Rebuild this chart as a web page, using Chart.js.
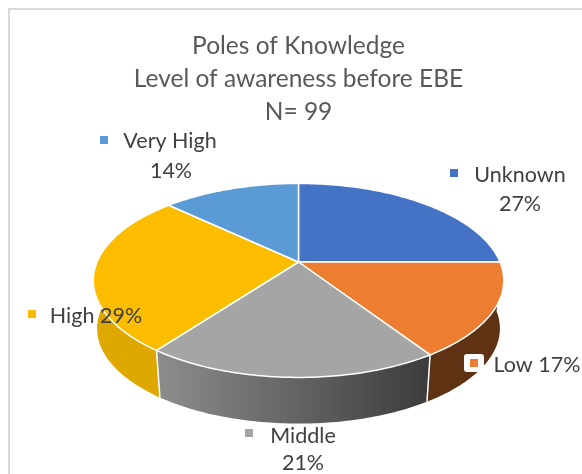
<!DOCTYPE html>
<html>
<head>
<meta charset="utf-8">
<title>Poles of Knowledge</title>
<script src="https://cdn.jsdelivr.net/npm/chart.js@4/dist/chart.umd.min.js"></script>
<style>
    html, body { margin: 0; padding: 0; background: #fff; overflow: hidden; }
    #frame { position: absolute; left: 8px; top: 8px; width: 574px; height: 466px;
             border-left: 2px solid #d9d9d9; border-top: 2px solid #d9d9d9; box-sizing: border-box; }
    #chart { position: absolute; left: 0; top: 0; }
</style>
</head>
<body>
<div id="frame"></div>
<canvas id="chart" width="582" height="474"></canvas>
<script>
// Values as printed on the labels
const categories = ['Unknown', 'Low', 'Middle', 'High', 'Very High'];
const shares = [27, 17, 21, 29, 14];
const titleLines = ['Poles of Knowledge', 'Level of awareness before EBE', 'N= 99'];
const sliceColors = ['#4472c4', '#ed7d31', '#a5a5a5', '#fcbd00', '#5b9bd5'];

// Side wall colours, left end and right end of each slice
const wallColors = [
    ['#2f5597', '#2f5597'],
    ['#5e3212', '#5e3212'],
    ['#8c8c8c', '#3c3c3c'],
    ['#dfa800', '#c49300'],
    ['#41719c', '#41719c']
];

// Perspective of the disc, top face and bottom face
const topFace = { cx: 298.5, cy: 262, a: 201.5, b: 93.5, k: 0.19 };
const bottomFace = { cx: 298.5, cy: 311, a: 198, b: 92, k: 0.183 };

// Where each label sits: marker box and the text lines under it
const labelSpots = [
    { marker: [450, 169], lines: [['Unknown', 520, 175], ['%', 520, 204]] },
    { marker: [470, 359], lines: [['Low %', 537, 365]], box: true },
    { marker: [245, 429], lines: [['Middle', 303, 436], ['%', 303, 463]] },
    { marker: [28, 310], lines: [['High %', 96, 316]] },
    { marker: [100, 136], lines: [['Very High', 170, 141], ['%', 171, 171]] }
];

// Turn a chart angle into a point on the tilted disc
function project(face, angle) {
    const u = Math.cos(angle);
    const v = -Math.sin(angle);
    const d = 1 + face.k * v;
    return [face.cx + face.a * u / d, face.cy - face.b * v / d];
}

function traceArc(ctx, face, from, to, move) {
    const steps = 80;
    for (let i = 0; i <= steps; i++) {
        const p = project(face, from + (to - from) * i / steps);
        if (i === 0 && move) ctx.moveTo(p[0], p[1]);
        else ctx.lineTo(p[0], p[1]);
    }
}

// Draws the arcs of the pie as a 3D disc, using the angles Chart.js worked out
const disc3d = {
    id: 'disc3d',
    beforeDatasetsDraw(chart) {
        const ctx = chart.ctx;
        const arcs = chart.getDatasetMeta(0).data;

        arcs.forEach((arc, i) => {
            const left = project(bottomFace, arc.startAngle)[0];
            const right = project(bottomFace, arc.endAngle)[0];
            const grad = ctx.createLinearGradient(Math.min(left, right), 0, Math.max(left, right), 0);
            grad.addColorStop(0, wallColors[i][0]);
            grad.addColorStop(1, wallColors[i][1]);
            ctx.beginPath();
            traceArc(ctx, topFace, arc.startAngle, arc.endAngle, true);
            traceArc(ctx, bottomFace, arc.endAngle, arc.startAngle, false);
            ctx.closePath();
            ctx.fillStyle = grad;
            ctx.fill();
        });

        // White seams on the front of the wall
        ctx.strokeStyle = '#ffffff';
        ctx.lineWidth = 1.5;
        arcs.forEach(arc => {
            if (Math.sin(arc.endAngle) > 0.1) {
                const a = project(topFace, arc.endAngle);
                const b = project(bottomFace, arc.endAngle);
                ctx.beginPath();
                ctx.moveTo(a[0], a[1]);
                ctx.lineTo(b[0], b[1]);
                ctx.stroke();
            }
        });

        arcs.forEach((arc, i) => {
            ctx.beginPath();
            ctx.moveTo(topFace.cx, topFace.cy);
            traceArc(ctx, topFace, arc.startAngle, arc.endAngle, false);
            ctx.closePath();
            ctx.fillStyle = sliceColors[i];
            ctx.fill();
            ctx.strokeStyle = '#ffffff';
            ctx.lineWidth = 1.5;
            ctx.stroke();
        });
        return false;
    },
    // afterDatasetsDraw is skipped once the hook above cancels, so labels go here
    afterDraw(chart) {
        const ctx = chart.ctx;
        ctx.save();
        ctx.font = '21.5px Lato';
        ctx.textAlign = 'center';
        ctx.textBaseline = 'middle';
        labelSpots.forEach((spot, i) => {
            if (spot.box) {
                ctx.fillStyle = '#ffffff';
                ctx.beginPath();
                ctx.roundRect(spot.marker[0] - 6, spot.marker[1] - 5, 20, 18, 3);
                ctx.fill();
            }
            ctx.fillStyle = sliceColors[i];
            ctx.fillRect(spot.marker[0], spot.marker[1], 8, 8);
            ctx.fillStyle = '#404040';
            spot.lines.forEach(line => {
                ctx.fillText(line[0].replace('%', shares[i] + '%'), line[1], line[2]);
            });
        });
        ctx.restore();
    }
};

new Chart(document.getElementById('chart'), {
    type: 'pie',
    data: {
        labels: categories,
        datasets: [{ data: shares, backgroundColor: sliceColors }]
    },
    options: {
        responsive: false,
        animation: false,
        layout: { padding: { left: 15 } },
        plugins: {
            legend: { display: false },
            tooltip: { enabled: false },
            title: {
                display: true,
                text: titleLines,
                color: '#595959',
                font: { family: 'Lato', size: 24.5, weight: 'normal', lineHeight: 1.347 },
                padding: { top: 30, bottom: 0 }
            }
        }
    },
    plugins: [disc3d]
});
</script>
</body>
</html>
